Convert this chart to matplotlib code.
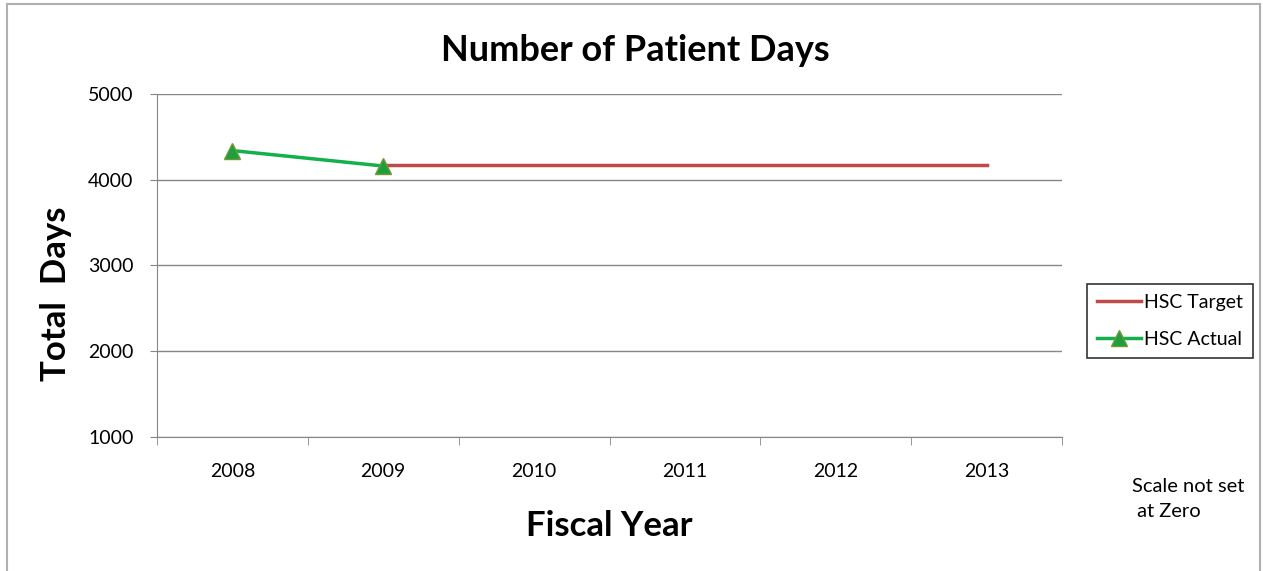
import matplotlib.pyplot as plt
from matplotlib.patches import Rectangle

years = ['2008', '2009', '2010', '2011', '2012', '2013']
target_years = [1, 2, 3, 4, 5]
target_values = [4170, 4170, 4170, 4170, 4170]
actual_years = [0, 1]
actual_values = [4340, 4160]

plt.rcParams['font.family'] = ['Lato', 'DejaVu Sans']

fig = plt.figure(figsize=(12.63, 5.71), dpi=100)
ax = fig.add_axes([0.1243, 0.2347, 0.7166, 0.6007])

# outer frame like the pasted excel chart
fig.patches.append(Rectangle((0.0055, -0.01), 0.992, 1.003, transform=fig.transFigure,
                             fill=False, edgecolor='#b0b0b0', linewidth=1.5))

ax.plot(target_years, target_values, color='#be4b48', linewidth=2.5, label='HSC Target', zorder=3)
ax.plot(actual_years, actual_values, color='#13b04b', linewidth=2.5, marker='^',
        markersize=11, markerfacecolor='#1f9e3c', markeredgecolor='#6f9a3a',
        label='HSC Actual', zorder=4)

ax.set_xlim(-0.5, 5.5)
ax.set_ylim(1000, 5000)
ax.set_yticks([1000, 2000, 3000, 4000, 5000])
ax.set_xticks(range(len(years)))
ax.set_xticklabels(years)
ax.set_xticks([i - 0.5 for i in range(len(years) + 1)], minor=True)
ax.tick_params(axis='x', which='major', length=0, pad=19, labelsize=14)
ax.tick_params(axis='x', which='minor', length=6, color='#868686', direction='out')
ax.tick_params(axis='y', length=5, color='#868686', pad=12, labelsize=14)

ax.grid(axis='y', color='#868686', linewidth=1)
ax.set_axisbelow(True)
for s in ['top', 'right']:
    ax.spines[s].set_visible(False)
ax.spines['left'].set_color('#868686')
ax.spines['bottom'].set_color('#868686')

ax.set_title('Number of Patient Days', fontsize=26, fontweight='bold', pad=24, x=0.529)
ax.set_xlabel('Fiscal Year', fontsize=25, fontweight='bold', labelpad=21)
ax.set_ylabel('Total  Days', fontsize=25, fontweight='bold')
ax.yaxis.set_label_coords(-0.094, 0.417)

leg = ax.legend(loc='center left', bbox_to_anchor=(1.0276, 0.338), fontsize=14,
                frameon=True, fancybox=False, edgecolor='black', handlelength=2.3,
                labelspacing=1.05, borderpad=0.5, handletextpad=0.15, borderaxespad=0)
leg.get_frame().set_linewidth(1.2)

fig.text(0.896, 0.126, 'Scale not set\n at Zero', fontsize=14.5, va='center', ha='left',
         linespacing=1.55)

fig.savefig('out.png', dpi=100)
